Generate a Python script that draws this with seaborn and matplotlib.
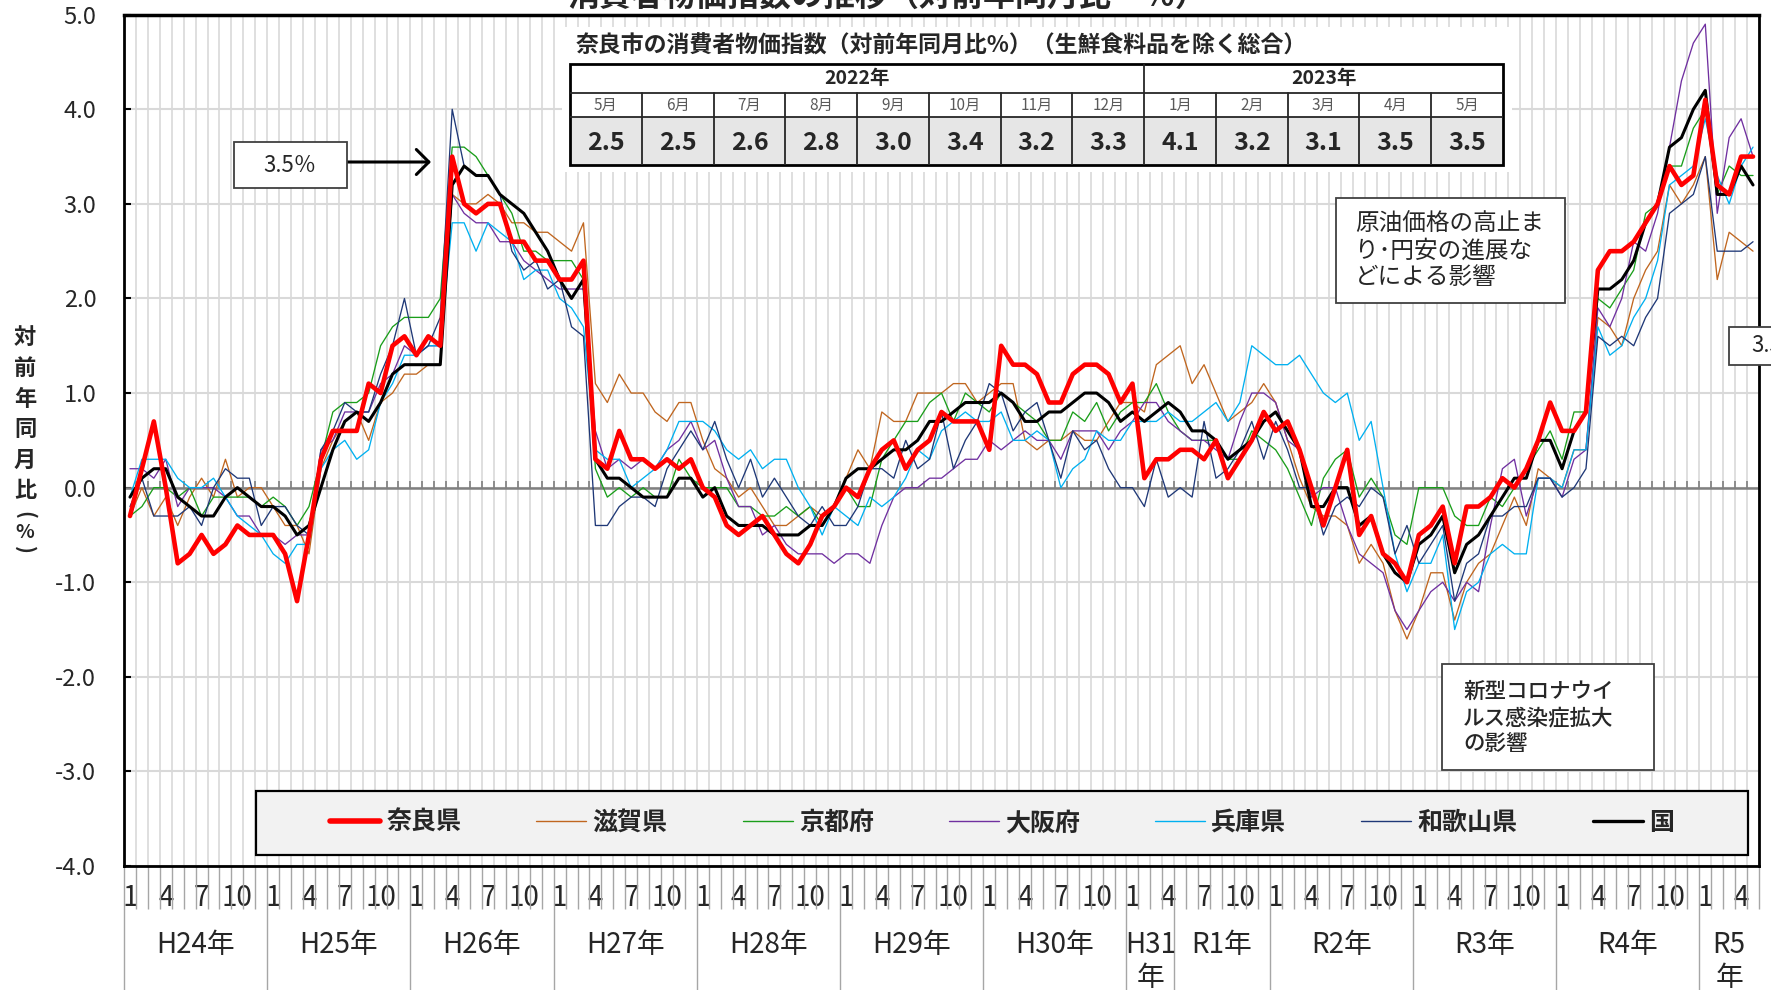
import numpy as np
import pandas as pd
import matplotlib.pyplot as plt
import seaborn as sns
from matplotlib.patches import Rectangle
from matplotlib.lines import Line2D
from matplotlib.transforms import blended_transform_factory
from matplotlib.ticker import FormatStrFormatter

W, H = 1771, 990

# months Jan 2012 .. May 2023
months = pd.period_range("2012-01", "2023-05", freq="M")

# year-on-year CPI change (%), one row per calendar year
nara = [-0.3, 0.2, 0.7, 0.0, -0.8, -0.7, -0.5, -0.7, -0.6, -0.4, -0.5, -0.5,
        -0.5, -0.7, -1.2, -0.5, 0.3, 0.6, 0.6, 0.6, 1.1, 1.0, 1.5, 1.6,
        1.4, 1.6, 1.5, 3.5, 3.0, 2.9, 3.0, 3.0, 2.6, 2.6, 2.4, 2.4,
        2.2, 2.2, 2.4, 0.3, 0.2, 0.6, 0.3, 0.3, 0.2, 0.3, 0.2, 0.3,
        0.0, -0.1, -0.4, -0.5, -0.4, -0.3, -0.5, -0.7, -0.8, -0.6, -0.3, -0.2,
        0.0, -0.1, 0.2, 0.4, 0.5, 0.2, 0.4, 0.5, 0.8, 0.7, 0.7, 0.7,
        0.4, 1.5, 1.3, 1.3, 1.2, 0.9, 0.9, 1.2, 1.3, 1.3, 1.2, 0.9,
        1.1, 0.1, 0.3, 0.3, 0.4, 0.4, 0.3, 0.5, 0.1, 0.3, 0.5, 0.8,
        0.6, 0.7, 0.4, 0.0, -0.4, 0.0, 0.4, -0.5, -0.3, -0.7, -0.8, -1.0,
        -0.5, -0.4, -0.2, -0.8, -0.2, -0.2, -0.1, 0.1, 0.0, 0.2, 0.5, 0.9,
        0.6, 0.6, 0.8, 2.3, 2.5, 2.5, 2.6, 2.8, 3.0, 3.4, 3.2, 3.3,
        4.1, 3.2, 3.1, 3.5, 3.5]

shiga = [-0.3, 0.0, -0.3, -0.1, -0.4, -0.1, 0.1, -0.1, 0.3, -0.1, 0.0, 0.0,
         -0.2, -0.4, -0.4, -0.7, 0.2, 0.5, 0.7, 0.8, 0.5, 0.9, 1.0, 1.2,
         1.2, 1.3, 1.3, 3.1, 3.0, 3.0, 3.1, 3.0, 2.8, 2.8, 2.7, 2.7,
         2.6, 2.5, 2.8, 1.1, 0.9, 1.2, 1.0, 1.0, 0.8, 0.7, 0.9, 0.9,
         0.5, 0.2, 0.1, -0.1, 0.0, -0.2, -0.4, -0.4, -0.3, -0.2, -0.3, -0.2,
         0.1, 0.4, 0.2, 0.8, 0.7, 0.7, 1.0, 1.0, 1.0, 1.1, 1.1, 0.9,
         1.0, 1.1, 1.1, 0.5, 0.4, 0.5, 0.5, 0.6, 0.5, 0.5, 0.7, 0.9,
         0.9, 0.8, 1.3, 1.4, 1.5, 1.1, 1.3, 1.0, 0.7, 0.8, 0.9, 1.1,
         0.9, 0.5, 0.1, -0.2, -0.3, -0.3, -0.4, -0.8, -0.6, -0.8, -1.3, -1.6,
         -1.3, -0.9, -0.9, -1.4, -1.0, -0.8, -0.7, -0.4, -0.1, -0.4, 0.2, 0.1,
         0.0, 0.4, 0.4, 1.8, 1.7, 1.5, 2.0, 2.3, 2.5, 3.2, 3.0, 3.2,
         3.5, 2.2, 2.7, 2.6, 2.5]

kyoto = [-0.3, -0.2, 0.0, 0.0, -0.1, 0.0, -0.3, -0.1, -0.1, -0.1, -0.1, -0.2,
         -0.1, -0.2, -0.4, -0.2, 0.3, 0.8, 0.9, 0.9, 1.0, 1.5, 1.7, 1.8,
         1.8, 1.8, 2.0, 3.6, 3.6, 3.5, 3.3, 3.1, 2.9, 2.5, 2.5, 2.4,
         2.4, 2.4, 2.2, 0.2, -0.1, 0.0, -0.1, 0.0, -0.1, -0.1, 0.3, 0.1,
         0.0, 0.0, 0.0, -0.2, -0.2, -0.3, -0.3, -0.2, -0.3, -0.2, -0.4, -0.2,
         0.0, -0.2, -0.2, 0.3, 0.5, 0.7, 0.7, 0.9, 1.0, 0.7, 1.0, 0.9,
         0.8, 1.0, 0.9, 0.8, 0.7, 0.5, 0.5, 0.8, 0.7, 0.9, 0.6, 0.8,
         0.9, 0.9, 1.1, 0.8, 0.6, 0.5, 0.5, 0.5, 0.3, 0.3, 0.6, 0.5,
         0.4, 0.2, -0.1, -0.4, 0.1, 0.3, 0.4, -0.1, 0.1, -0.1, -0.5, -0.6,
         0.0, 0.0, 0.0, -0.3, -0.4, -0.4, -0.1, -0.2, 0.0, 0.2, 0.4, 0.6,
         0.3, 0.8, 0.8, 2.0, 1.9, 2.1, 2.3, 2.9, 3.0, 3.4, 3.4, 3.8,
         4.0, 3.1, 3.4, 3.3, 3.3]

osaka = [0.2, 0.2, 0.1, 0.3, -0.2, 0.0, 0.0, 0.0, -0.1, -0.3, -0.3, -0.5,
         -0.5, -0.6, -0.5, -0.5, 0.4, 0.5, 0.8, 0.8, 0.8, 1.1, 1.2, 1.5,
         1.4, 1.5, 1.5, 3.1, 2.9, 2.8, 2.8, 2.6, 2.6, 2.4, 2.3, 2.2,
         2.1, 2.1, 2.1, 0.6, 0.2, 0.3, 0.2, 0.3, 0.2, 0.4, 0.5, 0.7,
         0.4, 0.5, 0.1, -0.2, -0.2, -0.5, -0.4, -0.6, -0.7, -0.7, -0.7, -0.8,
         -0.7, -0.7, -0.8, -0.4, -0.1, 0.0, 0.0, 0.1, 0.1, 0.2, 0.3, 0.3,
         0.5, 0.4, 0.5, 0.6, 0.5, 0.5, 0.3, 0.6, 0.6, 0.6, 0.4, 0.6,
         0.7, 0.9, 0.9, 0.7, 0.6, 0.5, 0.5, 0.4, 0.3, 0.7, 1.0, 1.0,
         0.9, 0.5, 0.4, -0.1, 0.0, 0.0, -0.4, -0.7, -0.8, -0.9, -1.3, -1.5,
         -1.3, -1.1, -1.0, -1.2, -1.0, -1.1, -0.4, 0.2, 0.3, -0.3, 0.1, 0.1,
         -0.1, 0.3, 0.4, 1.9, 1.7, 2.0, 2.6, 2.5, 2.9, 3.6, 4.3, 4.7,
         4.9, 2.9, 3.7, 3.9, 3.5]

hyogo = [-0.1, 0.3, 0.3, 0.3, 0.1, 0.0, 0.0, 0.1, -0.1, -0.3, -0.4, -0.5,
         -0.7, -0.8, -0.6, -0.6, 0.2, 0.4, 0.5, 0.3, 0.4, 0.9, 1.1, 1.4,
         1.4, 1.5, 1.5, 2.8, 2.8, 2.5, 2.8, 2.7, 2.6, 2.2, 2.3, 2.3,
         2.0, 1.9, 1.7, 0.4, 0.3, 0.3, 0.0, 0.1, 0.2, 0.4, 0.7, 0.7,
         0.7, 0.6, 0.4, 0.3, 0.4, 0.2, 0.3, 0.3, 0.0, -0.2, -0.5, -0.2,
         -0.3, -0.4, -0.1, -0.2, -0.1, 0.1, 0.4, 0.3, 0.6, 0.7, 0.8, 0.7,
         0.7, 0.8, 0.5, 0.5, 0.6, 0.5, 0.0, 0.2, 0.3, 0.6, 0.5, 0.5,
         0.7, 0.7, 0.7, 0.8, 0.7, 0.7, 0.8, 0.9, 0.7, 0.9, 1.5, 1.4,
         1.3, 1.3, 1.4, 1.2, 1.0, 0.9, 1.0, 0.5, 0.7, 0.0, -0.7, -1.1,
         -0.8, -0.8, -0.5, -1.5, -1.1, -1.0, -0.7, -0.6, -0.7, -0.7, 0.1, 0.1,
         0.0, 0.4, 0.4, 1.7, 1.4, 1.5, 1.8, 2.0, 2.4, 3.2, 3.3, 3.4,
         3.9, 3.3, 3.0, 3.4, 3.6]

wakayama = [-0.2, 0.1, -0.3, -0.3, -0.3, -0.2, -0.4, 0.0, 0.2, 0.1, 0.1, -0.4,
            -0.2, -0.2, -0.4, -0.5, 0.4, 0.6, 0.9, 0.8, 0.8, 1.2, 1.5, 2.0,
            1.4, 1.5, 1.8, 4.0, 3.4, 3.3, 3.3, 3.1, 2.5, 2.3, 2.4, 2.1,
            2.2, 1.7, 1.6, -0.4, -0.4, -0.2, -0.1, -0.1, -0.2, 0.2, 0.4, 0.6,
            0.4, 0.7, 0.3, 0.0, 0.3, -0.1, 0.1, -0.1, -0.3, -0.4, -0.2, -0.4,
            -0.4, -0.2, 0.2, 0.2, 0.1, 0.5, 0.2, 0.3, 0.8, 0.2, 0.5, 0.7,
            1.1, 1.0, 0.6, 0.8, 0.9, 0.5, 0.1, 0.6, 0.4, 0.5, 0.2, 0.0,
            0.0, -0.2, 0.3, -0.1, 0.0, -0.1, 0.7, 0.1, 0.2, 0.4, 0.7, 0.3,
            0.7, 0.4, 0.0, 0.0, -0.5, -0.2, -0.1, -0.2, 0.0, -0.1, -0.7, -0.4,
            -0.8, -0.6, -0.4, -1.2, -0.8, -0.7, -0.3, -0.3, -0.2, -0.2, 0.1, 0.1,
            -0.1, 0.0, 0.2, 1.6, 1.5, 1.6, 1.5, 1.8, 2.0, 2.9, 3.0, 3.1,
            3.5, 2.5, 2.5, 2.5, 2.6]

kuni = [-0.1, 0.1, 0.2, 0.2, -0.1, -0.2, -0.3, -0.3, -0.1, 0.0, -0.1, -0.2,
        -0.2, -0.3, -0.5, -0.4, 0.0, 0.4, 0.7, 0.8, 0.7, 0.9, 1.2, 1.3,
        1.3, 1.3, 1.3, 3.2, 3.4, 3.3, 3.3, 3.1, 3.0, 2.9, 2.7, 2.5,
        2.2, 2.0, 2.2, 0.3, 0.1, 0.1, 0.0, -0.1, -0.1, -0.1, 0.1, 0.1,
        -0.1, 0.0, -0.3, -0.4, -0.4, -0.4, -0.5, -0.5, -0.5, -0.4, -0.4, -0.2,
        0.1, 0.2, 0.2, 0.3, 0.4, 0.4, 0.5, 0.7, 0.7, 0.8, 0.9, 0.9,
        0.9, 1.0, 0.9, 0.7, 0.7, 0.8, 0.8, 0.9, 1.0, 1.0, 0.9, 0.7,
        0.8, 0.7, 0.8, 0.9, 0.8, 0.6, 0.6, 0.5, 0.3, 0.4, 0.5, 0.7,
        0.8, 0.6, 0.4, -0.2, -0.2, 0.0, 0.0, -0.4, -0.3, -0.7, -0.9, -1.0,
        -0.6, -0.5, -0.3, -0.9, -0.6, -0.5, -0.3, -0.1, 0.1, 0.1, 0.5, 0.5,
        0.2, 0.6, 0.8, 2.1, 2.1, 2.2, 2.4, 2.8, 3.0, 3.6, 3.7, 4.0,
        4.2, 3.1, 3.1, 3.4, 3.2]

names = ["奈良県", "滋賀県", "京都府", "大阪府", "兵庫県", "和歌山県", "国"]
values = [nara, shiga, kyoto, osaka, hyogo, wakayama, kuni]
colors = ["#ff0000", "#c0661f", "#1a9e1a", "#7030a0", "#00b0f0", "#1f3877", "#000000"]
widths = [3.3, 0.95, 0.95, 0.95, 0.95, 0.95, 2.2]
zorders = [6, 3, 3, 3, 3, 3, 5]

# fiscal-era year labels and their month spans
era_labels = ["H24年", "H25年", "H26年", "H27年", "H28年", "H29年", "H30年",
              "H31\n年", "R1年", "R2年", "R3年", "R4年", "R5\n年"]
era_spans = [12, 12, 12, 12, 12, 12, 12, 4, 8, 12, 12, 12, 5]

table_title = "奈良市の消費者物価指数（対前年同月比%）（生鮮食料品を除く総合）"

sns.set_theme(style="white")
NARROW = ["Liberation Sans Narrow", "Noto Sans CJK JP", "DejaVu Sans"]
JP = ["Noto Sans CJK JP", "DejaVu Sans"]
plt.rcParams["font.family"] = NARROW
plt.rcParams["axes.unicode_minus"] = False


def fx(px):
    return px / W


def fy(py):
    return 1 - py / H


fig = plt.figure(figsize=(W / 100, H / 100), dpi=100)
fig.patch.set_facecolor("white")
ax = fig.add_axes([fx(124), fy(866), 1635 / W, 851.3 / H])
ax.set_facecolor("white")

x = np.arange(len(months))
for name, vals, c, lw, z in zip(names, values, colors, widths, zorders):
    sns.lineplot(x=x, y=vals, color=c, linewidth=lw, zorder=z, ax=ax)

ax.set_xlim(-0.5, len(months) - 0.5)
ax.set_ylim(-4, 5)
ax.set_yticks(range(-4, 6))
ax.yaxis.set_major_formatter(FormatStrFormatter("%.1f"))

# month ticks: 1, 4, 7, 10
lab_pos = [i for i, m in enumerate(months) if m.month in (1, 4, 7, 10)]
ax.set_xticks(lab_pos)
ax.set_xticklabels([str(months[i].month) for i in lab_pos])
ax.set_xticks(np.arange(-0.5, len(months), 1), minor=True)

ax.grid(axis="y", color="#d9d9d9", lw=1.5)
ax.grid(axis="x", which="minor", color="#d9d9d9", lw=1.2)
ax.set_axisbelow(True)

ax.axhline(0, color="#808080", lw=1.8, zorder=1.5)
ax.vlines(np.arange(-0.5, len(months), 1), 0, 0.07, color="#808080", lw=1.2, zorder=1.5)

ax.tick_params(axis="y", which="major", left=True, direction="in", length=5, width=1.5,
               color="black", labelsize=17, pad=20)
ax.tick_params(axis="x", which="major", bottom=True, length=0, labelsize=20, pad=12)
ax.tick_params(axis="x", which="minor", bottom=True, direction="out", length=31,
               width=1, color="#a6a6a6")
for s in ax.spines.values():
    s.set_color("black")
    s.set_linewidth(2)
ax.spines["top"].set_linewidth(2.5)

# era labels and separators under the month row
trans = blended_transform_factory(ax.transData, ax.transAxes)
edges = np.concatenate([[0], np.cumsum(era_spans)]) - 0.5
for b in edges[:-1]:
    ax.plot([b, b], [-0.0505, -0.16], transform=trans, color="#a6a6a6", lw=1, clip_on=False)
for lab, a, b in zip(era_labels, edges[:-1], edges[1:]):
    ax.text((a + b) / 2, -0.0755, lab, transform=trans, ha="center", va="top",
            fontsize=20, linespacing=1.1)

# legend
ax.add_patch(Rectangle((0.0807, 0.0129), 0.9126, 0.0752, transform=ax.transAxes,
                       facecolor="#f2f2f2", edgecolor="black", lw=1.6, zorder=7))
handles = [Line2D([], [], color=c, lw=(4 if c == "#ff0000" else 2.4 if c == "#000000" else 1))
           for c in colors]
leg = ax.legend(handles, names, loc="center", bbox_to_anchor=(0.0807, 0.0129, 0.9126, 0.0752),
                ncol=7, frameon=False, handlelength=2.0, handletextpad=0.25, columnspacing=3.0,
                prop=dict(family=JP, size=18, weight="bold"))
leg.set_zorder(8)

# y-axis label, stacked vertically; brackets turned sideways
ylab = ["対", "前", "年", "同", "月", "比"]
ylab_y = [338, 368, 399, 429, 460, 490]
for ch, yy in zip(ylab, ylab_y):
    fig.text(fx(25), fy(yy), ch, ha="center", va="center", fontsize=16,
             fontweight="bold", family=JP)
fig.text(fx(25), fy(515), "(", ha="center", va="center", fontsize=15,
         fontweight="bold", rotation=-90, family=JP)
fig.text(fx(25), fy(532), "%", ha="center", va="center", fontsize=14,
         fontweight="bold", family=JP)
fig.text(fx(25), fy(550), ")", ha="center", va="center", fontsize=15,
         fontweight="bold", rotation=-90, family=JP)

# title (cut at the top edge, as in the source)
fig.text(fx(887), fy(6), "消費者物価指数の推移（対前年同月比・％）", ha="center",
         va="baseline", fontsize=23, fontweight="bold", family=JP)

# white panel behind the Nara-city table
ax.add_patch(Rectangle((fx(562), fy(172)), 950 / W, 145 / H, transform=fig.transFigure,
                       facecolor="white", edgecolor="none", zorder=0.8))
fig.text(fx(576), fy(46), table_title, ha="left", va="center", fontsize=16.5,
         fontweight="bold", family=JP)

tab_months = months[-13:]
tab_vals = nara[-13:]
tab = fig.add_axes([fx(570), fy(165), 933 / W, 101 / H])
tab.set_xlim(0, 13)
tab.set_ylim(0, 101)
tab.axis("off")
tab.add_patch(Rectangle((0, 0), 13, 48, facecolor="#e6e6e6", edgecolor="none"))
tab.add_patch(Rectangle((0, 48), 13, 53, facecolor="white", edgecolor="none"))
for yv in (48, 72):
    tab.plot([0, 13], [yv, yv], color="#262626", lw=1.3)
split = sum(1 for p in tab_months if p.year == tab_months[0].year)
for c in range(1, 13):
    tab.plot([c, c], [0, 101 if c == split else 72], color="#262626", lw=1.3)
tab.add_patch(Rectangle((0, 0), 13, 101, fill=False, edgecolor="black", lw=2, clip_on=False))
tab.text(split / 2, 86.5, f"{tab_months[0].year}年", ha="center", va="center",
         fontsize=14, fontweight="bold")
tab.text((split + 13) / 2, 86.5, f"{tab_months[-1].year}年", ha="center", va="center",
         fontsize=14, fontweight="bold")
for c, (p, v) in enumerate(zip(tab_months, tab_vals)):
    tab.text(c + 0.5, 60, f"{p.month}月", ha="center", va="center", fontsize=11,
             color="#595959")
    tab.text(c + 0.5, 22, f"{v:.1f}", ha="center", va="center", fontsize=18,
             fontweight="bold")


def box(x0, y0, x1, y1):
    fig.add_artist(Rectangle((fx(x0), fy(y1)), (x1 - x0) / W, (y1 - y0) / H,
                             transform=fig.transFigure, facecolor="white",
                             edgecolor="#404040", lw=1.3, zorder=9))


box(234, 142, 347, 188)
fig.text(fx(290), fy(165), "3.5％", ha="center", va="center", fontsize=16,
         family=JP, zorder=10)
ax.annotate("", xy=(fx(431), fy(162)), xytext=(fx(347), fy(162)),
            xycoords="figure fraction", textcoords="figure fraction",
            arrowprops=dict(arrowstyle="->,head_length=0.45,head_width=0.45",
                            mutation_scale=20, lw=2.2, color="black",
                            shrinkA=0, shrinkB=0))

box(1336, 198, 1565, 303)
fig.text(fx(1355), fy(251), "原油価格の高止ま\nり･円安の進展な\nどによる影響", ha="left",
         va="center", fontsize=17, family=JP, linespacing=1.2, zorder=10)

box(1442, 664, 1654, 770)
fig.text(fx(1463), fy(718), "新型コロナウイ\nルス感染症拡大\nの影響", ha="left",
         va="center", fontsize=15.5, family=JP, fontweight="medium",
         linespacing=1.25, zorder=10)

box(1729, 327, 1800, 365)
fig.text(fx(1751), fy(346), "3.5％", ha="left", va="center", fontsize=16,
         family=JP, zorder=10)

fig.savefig("out.png", dpi=100)
